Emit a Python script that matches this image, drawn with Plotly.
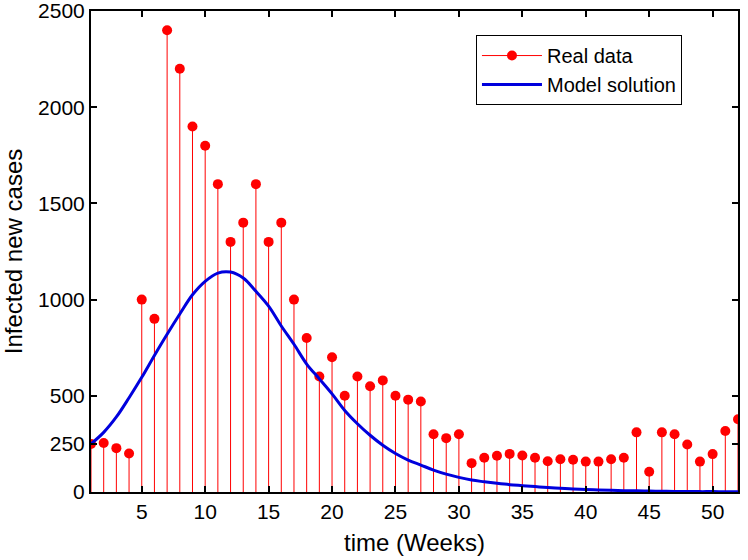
import plotly.graph_objects as go

# weekly data
weeks = list(range(1, 53))
real_cases = [250, 255, 228, 200, 1000, 900, 2400, 2200, 1900, 1800,
              1600, 1300, 1400, 1600, 1300, 1400, 1000, 800, 600, 700,
              500, 600, 550, 580, 500, 480, 470, 300, 280, 300,
              150, 178, 188, 198, 190, 178, 160, 170, 168, 158,
              158, 170, 178, 310, 105, 310, 300, 247, 158, 197,
              317, 378]
model_cases = [250, 310, 390, 490, 596, 710, 820, 925, 1025, 1095,
               1138, 1143, 1112, 1043, 966, 863, 768, 665, 588, 510,
               424, 355, 295, 243, 200, 166, 140, 114, 93, 76,
               62, 53, 45, 38, 33, 28, 23, 19, 16, 13,
               11, 9, 7, 6, 5, 4, 3, 3, 2, 2, 1, 1]

red = "#ff0000"
blue = "#0000dd"

fig = go.Figure()

# stems drawn as one-sided error bars down to zero
fig.add_trace(go.Scatter(
    x=weeks, y=real_cases, mode="markers", showlegend=False,
    marker=dict(color=red, size=10),
    error_y=dict(type="data", symmetric=False, array=[0] * len(weeks),
                 arrayminus=real_cases, width=0, thickness=1, color=red),
))
# legend entry for the stem plot
fig.add_trace(go.Scatter(
    x=[None], y=[None], mode="lines+markers", name="Real data",
    line=dict(color=red, width=1), marker=dict(color=red, size=10),
))
fig.add_trace(go.Scatter(
    x=weeks, y=model_cases, mode="lines", name="Model solution",
    line=dict(color=blue, width=3, shape="spline"),
))

axis_style = dict(showline=True, linecolor="black", linewidth=2, mirror="ticks",
                  ticks="inside", ticklen=6, tickwidth=2, tickcolor="black",
                  showgrid=False, zeroline=False, automargin=True,
                  ticklabeloverflow="allow",
                  tickfont=dict(size=21, color="black"))

fig.update_layout(
    width=748, height=560,
    margin=dict(l=91, r=10, t=11, b=68, autoexpand=False),
    plot_bgcolor="white", paper_bgcolor="white",
    font=dict(family="Liberation Sans, Arial, sans-serif", color="black"),
    xaxis=dict(range=[1, 52], tickvals=[5, 10, 15, 20, 25, 30, 35, 40, 45, 50],
               title=dict(text="time (Weeks)", font=dict(size=24), standoff=12),
               **axis_style),
    yaxis=dict(range=[0, 2500], tickvals=[0, 250, 500, 1000, 1500, 2000, 2500],
               title=dict(text="Infected new cases", font=dict(size=24), standoff=9),
               **axis_style),
    legend=dict(x=0.595, y=0.95, xanchor="left", yanchor="top",
                bordercolor="black", borderwidth=1, bgcolor="white",
                font=dict(size=20), itemwidth=60, tracegroupgap=0),
)

# drop the browser's default body margin so the figure sits at the page corner
fig.write_html("out.html", config={"displayModeBar": False},
               post_script="document.body.style.margin = '0';")
